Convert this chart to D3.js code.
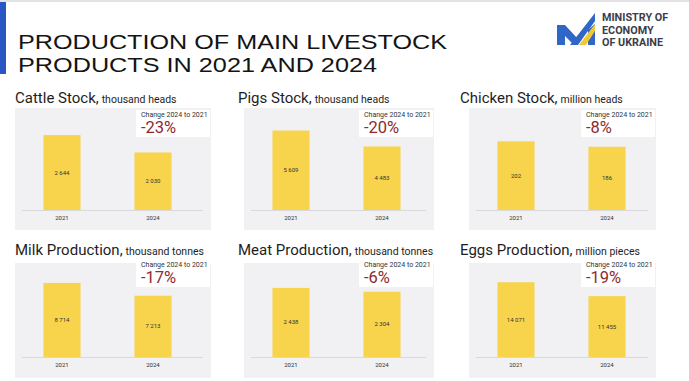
<!DOCTYPE html>
<html><head><meta charset="utf-8">
<script src="https://cdn.jsdelivr.net/npm/d3@7/dist/d3.min.js"></script>
<style>html,body{margin:0;padding:0;background:#fff;}svg{display:block;}</style>
</head><body>
<svg id="chart" width="689" height="381"></svg>
<script>
// ---- data ----
const categories = ["Cattle Stock", "Pigs Stock", "Chicken Stock", "Milk Production", "Meat Production", "Eggs Production"];
const units = ["thousand heads", "thousand heads", "million heads", "thousand tonnes", "thousand tonnes", "million pieces"];
const years = ["2021", "2024"];
const values2021 = [2644, 5609, 202, 8714, 2438, 14071];
const values2024 = [2030, 4483, 186, 7213, 2304, 11455];
const changes = ["-23%", "-20%", "-8%", "-17%", "-6%", "-19%"];
const axisMax = [3000, 6000, 250, 10000, 3000, 16000];
const titleLines = ["PRODUCTION OF MAIN LIVESTOCK", "PRODUCTS IN 2021 AND 2024"];
const changeLabel = "Change 2024 to 2021";
const logoLines = ["MINISTRY OF", "ECONOMY", "OF UKRAINE"];

// ---- layout ----
const colX = [15, 244, 469];
const colW = [196, 190, 187];
const titleDx = [0, -6, -9];
const rowTitleY = [103, 255];
const rowBgTop = [108, 263];
const rowAxis = [210, 357];
const rowBgBottom = [230, 378];
const rowBoxTop = [110, 260];
const plotH = 85;

const svg = d3.select("#chart");
const fmt = d3.formatLocale({decimal: ".", thousands: " ", grouping: [3], currency: ["", ""]}).format(",d");
const FONT = "Roboto, 'DejaVu Sans', sans-serif";

// header decorations
svg.append("rect").attr("x", 0).attr("y", 0).attr("width", 689).attr("height", 2).attr("fill", "#e3e3e6");
svg.append("rect").attr("x", 0).attr("y", 2).attr("width", 6).attr("height", 72).attr("fill", "#2a55c4");

const tl = [{y: 49, w: 429}, {y: 71.6, w: 359}];
titleLines.forEach((t, i) => {
  svg.append("text").attr("x", 18).attr("y", tl[i].y)
    .attr("font-family", "'Liberation Sans', Arial, sans-serif").attr("font-size", 20).attr("fill", "#141414")
    .attr("textLength", tl[i].w).attr("lengthAdjust", "spacingAndGlyphs")
    .text(t);
});

// logo
const logo = svg.append("g");
logo.append("path").attr("d", "M557,25 L565,25 L577,38 L574,45 L565,36 L565,45 L557,45 Z").attr("fill", "#2f66c8");
logo.append("path").attr("d", "M570,45 L595,13 L595,21 L578,45 Z").attr("fill", "#2f66c8");
logo.append("path").attr("d", "M588,30 L595,24 L595,45 L588,45 Z").attr("fill", "#2f66c8");
logo.append("path").attr("d", "M579,45 L595,24 L595,31 L586,45 Z").attr("fill", "#f2c734");
logoLines.forEach((t, i) => {
  logo.append("text").attr("x", 602).attr("y", 21 + i * 12.5)
    .attr("font-family", FONT).attr("font-size", 10.8).attr("font-weight", 700)
    .attr("fill", "#3b3d4a").text(t);
});

// panels
categories.forEach((cat, i) => {
  const c = i % 3, r = Math.floor(i / 3);
  const x0 = colX[c], w = colW[c];
  const g = svg.append("g");
  const vals = [values2021[i], values2024[i]];

  g.append("rect").attr("x", x0).attr("y", rowBgTop[r]).attr("width", w)
    .attr("height", rowBgBottom[r] - rowBgTop[r]).attr("fill", "#f1f0f3");

  // title
  const tt = g.append("text").attr("x", x0 + titleDx[c]).attr("y", rowTitleY[r])
    .attr("font-family", FONT).attr("fill", "#1e1e1e");
  tt.append("tspan").attr("font-size", 15).text(cat + ",");
  tt.append("tspan").attr("font-size", 10.5).attr("dx", 3).text(units[i]);

  const xs = d3.scaleBand().domain(years).range([x0, x0 + 185]).paddingInner(0.593).paddingOuter(0.313);
  const ys = d3.scaleLinear().domain([0, axisMax[i]]).range([rowAxis[r], rowAxis[r] - plotH]);

  // axis line
  g.append("line").attr("x1", x0 + 7).attr("x2", x0 + w - 8)
    .attr("y1", rowAxis[r] + 0.5).attr("y2", rowAxis[r] + 0.5).attr("stroke", "#d9d9dc").attr("stroke-width", 1);

  g.selectAll("rect.bar").data(vals).join("rect").attr("class", "bar")
    .attr("x", (d, j) => xs(years[j])).attr("width", xs.bandwidth())
    .attr("y", d => ys(d)).attr("height", d => ys(0) - ys(d)).attr("fill", "#f7d44c");

  g.selectAll("text.val").data(vals).join("text").attr("class", "val")
    .attr("x", (d, j) => xs(years[j]) + xs.bandwidth() / 2)
    .attr("y", d => (ys(d) + ys(0)) / 2 + 2)
    .attr("text-anchor", "middle").attr("font-family", FONT)
    .attr("font-size", 6).attr("fill", "#333").text(d => fmt(d));

  const xAxis = d3.axisBottom(xs).tickSize(0).tickPadding(6);
  const ax = g.append("g").attr("transform", `translate(0,${rowAxis[r]})`).call(xAxis);
  ax.select(".domain").remove();
  ax.selectAll("text").attr("font-family", FONT).attr("font-size", 6).attr("fill", "#333");

  // change box
  const bx = x0 + w - 75;
  g.append("rect").attr("x", bx).attr("y", rowBoxTop[r]).attr("width", 74).attr("height", 27).attr("fill", "#ffffff");
  g.append("text").attr("x", bx + 5).attr("y", rowBoxTop[r] + 7)
    .attr("font-family", FONT).attr("font-size", 7).attr("fill", "#333")
    .text(changeLabel);
  g.append("text").attr("x", bx + 5).attr("y", rowBoxTop[r] + 22.5)
    .attr("font-family", FONT).attr("font-size", 16.5).attr("font-weight", 400)
    .attr("fill", "#8e2a30").text(changes[i]);
});
</script>
</body></html>
